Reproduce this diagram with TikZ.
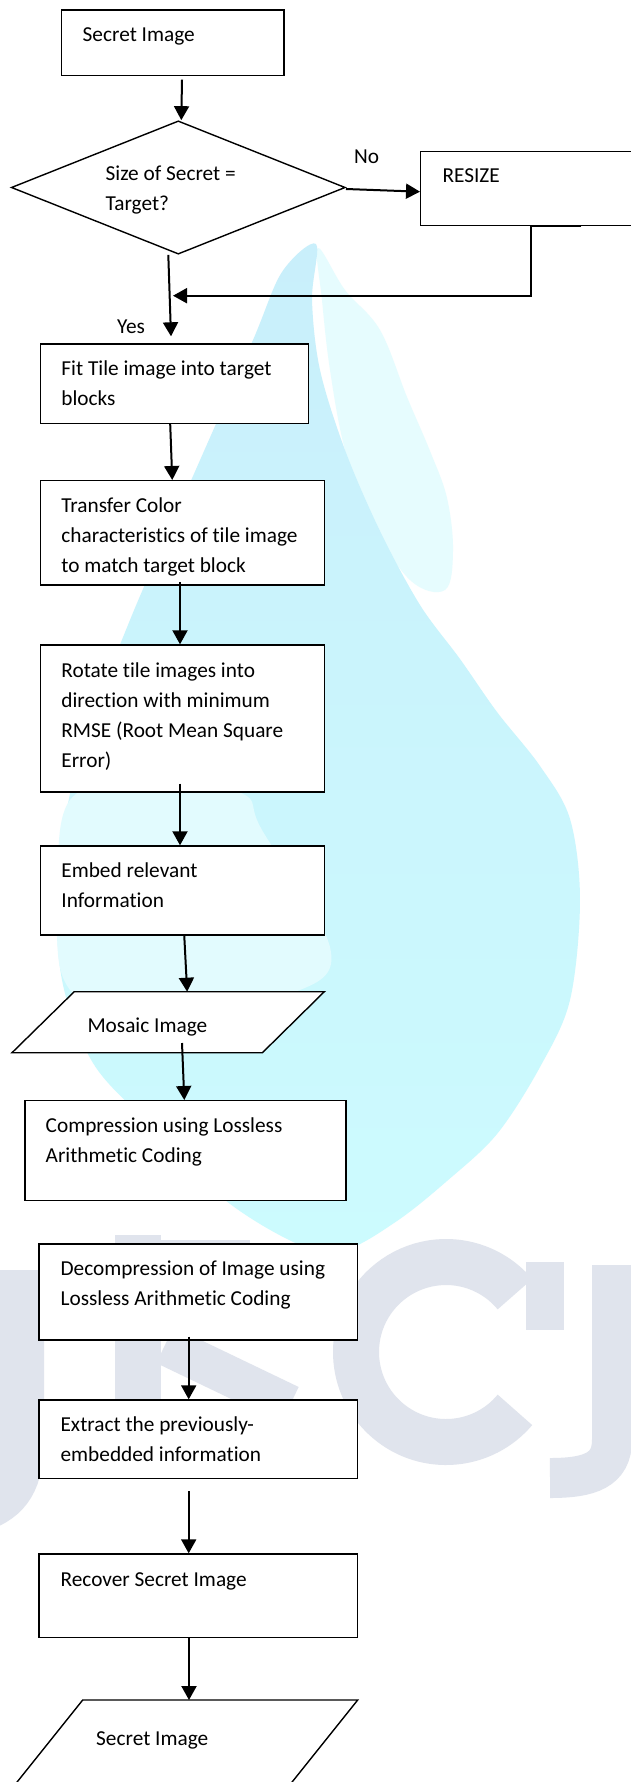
\documentclass[tikz,border=0pt]{standalone}
\usepackage{fontspec}
\setmainfont{Carlito}[Ligatures=NoCommon]
\usetikzlibrary{arrows.meta,shapes.geometric}

\definecolor{wmtop}{HTML}{C9EFFB}
\definecolor{wmbottom}{HTML}{CCFBFE}
\definecolor{wmlight}{HTML}{E6FCFE}
\definecolor{wmpale}{HTML}{E2FBFE}
\definecolor{wmgrey}{HTML}{E0E4ED}

\tikzset{
  box/.style={rectangle, draw=black, line width=1.4pt, fill=white, inner sep=0pt},
  frame/.style={rectangle, draw=none, inner sep=0pt, outer sep=0pt},
  slant/.style={draw=black, line width=1.4pt, fill=white},
  lbl/.style={anchor=base west, inner sep=0pt, align=left,
              font=\fontsize{21.3}{30}\selectfont},
  arr/.style={line width=2pt, -{Triangle[width=15pt,length=14pt]}},
  wmstroke/.style={draw=wmgrey, line cap=butt}
}

\begin{document}
\begin{tikzpicture}[x=1pt,y=-1pt]
\useasboundingbox (0,0) rectangle (631,1782);
\clip (0,0) rectangle (631,1782);
\fill[white] (0,0) rectangle (631,1782);

% pale drop in the background
\fill[wmlight] plot[smooth cycle, tension=0.6] coordinates {
  (318,248) (345,290) (380,330) (407,397) (430,451) (447,498) (453,551)
  (445,590) (410,580) (370,520) (345,450) (330,370) (322,300)};
\shade[top color=wmtop, bottom color=wmbottom] plot[smooth cycle, tension=0.55] coordinates {
  (316,244) (282,272) (253,340) (197,467) (130,620) (78,760) (58,880)
  (62,980) (93,1063) (150,1125) (225,1200) (300,1245) (345,1250)
  (397,1221) (447,1181) (497,1134) (540,1067) (570,1000) (580,900)
  (570,819) (540,766) (497,712) (460,659) (420,605) (380,531)
  (345,450) (320,370) (312,300)};
\fill[wmpale] plot[smooth cycle, tension=0.6] coordinates {
  (70,800) (58,900) (64,980) (110,1010) (200,1000) (300,990)
  (330,947) (262,830) (241,793) (150,780)};

% pale lettering in the background
\draw[wmstroke, line width=44pt] (22,1270) -- (22,1440)
  .. controls (22,1480) and (10,1500) .. (-20,1510);
\draw[wmstroke, line width=46pt] (138,1235) -- (138,1400);
\draw[wmstroke, line width=30pt] (138,1255) -- (250,1255);
\draw[wmstroke, line width=40pt] (165,1345) -- (290,1405);
\draw[wmstroke, line width=46pt] (446,1352) ++(40:90)
  arc[start angle=40, end angle=320, radius=90];
\draw[wmstroke, line width=38pt] (545,1262) -- (545,1330);
\draw[wmstroke, line width=40pt] (612,1265) -- (612,1440)
  .. controls (612,1470) and (590,1478) .. (550,1478);

% process blocks
\node[box, minimum width=222.5pt, minimum height=65.3pt] (secret) at (172.85,42.65) {};
\node[diamond, draw=black, line width=1.4pt, fill=white, inner sep=0pt,
      minimum width=334pt, minimum height=133.3pt] (cond) at (178.3,187.5) {};
\node[box, minimum width=259.3pt, minimum height=73.8pt] (resize) at (550.35,188.4) {};
\node[box, minimum width=268.5pt, minimum height=79.5pt] (fit) at (174.45,383.55) {};
\node[box, minimum width=284.1pt, minimum height=104.1pt] (transfer) at (182.25,532.75) {};
\node[box, minimum width=284.1pt, minimum height=146.8pt] (rotate) at (182.25,718.4) {};
\node[box, minimum width=284.1pt, minimum height=88.8pt] (embed) at (182.25,890.4) {};
\node[frame, minimum width=312.3pt, minimum height=61pt] (mosaic) at (168.15,1022.2) {};
\draw[slant] ([xshift=62.2pt]mosaic.north west) -- (mosaic.north east)
  -- ([xshift=-61.9pt]mosaic.south east) -- (mosaic.south west) -- cycle;
\node[box, minimum width=321pt, minimum height=99.8pt] (compress) at (185.5,1150.6) {};
\node[box, minimum width=318.4pt, minimum height=96pt] (decomp) at (198.2,1292) {};
\node[box, minimum width=318.4pt, minimum height=78.3pt] (extract) at (198.2,1439.15) {};
\node[box, minimum width=318.4pt, minimum height=83.7pt] (recover) at (198.2,1595.85) {};
\node[frame, minimum width=355pt, minimum height=100pt] (out) at (180.2,1750) {};
\draw[slant] ([xshift=80pt]out.north west) -- (out.north east)
  -- ([xshift=-80pt]out.south east) -- (out.south west) -- cycle;

% texts (each node sits on the baseline of its last line)
\node[lbl] (tsecret) at (82.5,41.5) {Secret Image};
\node[lbl] (tcond) at (105.4,210) {Size of Secret =\\Target?};
\node[lbl] (tno) at (354,164) {No};
\node[lbl] (tresize) at (442.3,182.5) {RESIZE};
\node[lbl] (tyes) at (117,333) {Yes};
\node[lbl] (tfit) at (61.2,405.3) {Fit Tile image into target\\blocks};
\node[lbl] (ttransfer) at (61.2,572.7) {Transfer Color\\characteristics of tile image\\to match target block};
\node[lbl] (trotate) at (61.2,767) {Rotate tile images into\\direction with minimum\\RMSE (Root Mean Square\\Error)};
\node[lbl] (tembed) at (61.2,907.7) {Embed relevant\\Information};
\node[lbl] (tmosaic) at (87.3,1032) {Mosaic Image};
\node[lbl] (tcompress) at (45.5,1162.7) {Compression using Lossless\\Arithmetic Coding};
\node[lbl] (tdecomp) at (60.4,1305.3) {Decompression of Image using\\Lossless Arithmetic Coding};
\node[lbl] (textract) at (60.4,1461.5) {Extract the previously-\\embedded information};
\node[lbl] (trecover) at (60.4,1586) {Recover Secret Image};
\node[lbl] (tout) at (96,1745) {Secret Image};

% connectors
\coordinate (join) at (173,295.7);
\draw[arr] ([xshift=9.15pt,yshift=-3.7pt]secret.south) -- ([xshift=3pt]cond.north);
\draw[arr] ([yshift=-1.5pt]cond.east) -- ([yshift=-3.3pt]resize.west);
\draw[arr] ([xshift=31pt]resize.south) -- ([xshift=-19.35pt]resize.south) |- (join);
\draw[arr] ([xshift=-10pt]cond.south) -- ([xshift=-3.45pt,yshift=6.8pt]fit.north);
\draw[arr] ([xshift=-4.25pt]fit.south) -- ([xshift=-10pt]transfer.north);
\draw[arr] ([xshift=-2.25pt,yshift=3.1pt]transfer.south) -- ([xshift=-2.25pt]rotate.north);
\draw[arr] ([xshift=-2.25pt,yshift=9pt]rotate.south) -- ([xshift=-2.25pt]embed.north);
\draw[arr] ([xshift=2pt]embed.south) -- ([xshift=19pt]mosaic.north);
\draw[arr] ([xshift=13.85pt,yshift=9.7pt]mosaic.south) -- ([xshift=-1.2pt]compress.north);
\draw[arr] ([xshift=-9.5pt,yshift=4pt]decomp.south) -- ([xshift=-9.5pt]extract.north);
\draw[arr] ([xshift=-9.5pt,yshift=-12.4pt]extract.south) -- ([xshift=-9.5pt]recover.north);
\draw[arr] ([xshift=-9.2pt]recover.south) -- ([xshift=8.8pt]out.north);
\end{tikzpicture}
\end{document}
